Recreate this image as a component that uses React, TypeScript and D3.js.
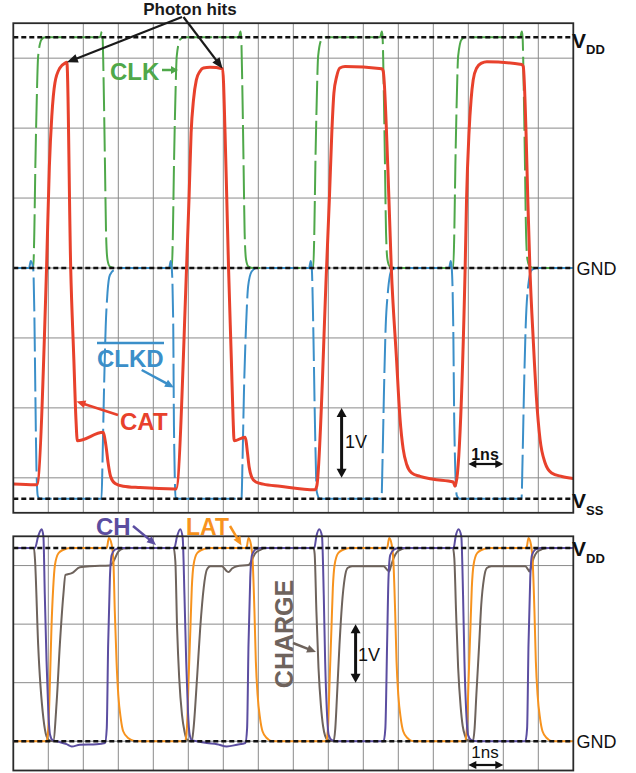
import React from "react";
import * as d3 from "d3";

// ---------- data (time in ns, voltage in V) ----------
const timeGridNs = [1, 2, 3, 4, 5, 6, 7, 8, 9, 10, 11, 12, 13, 14, 15];
const topGridV = [-3, -2, -1, 0, 1, 2, 3];
const botGridV = [0, 1, 2, 3];
const VDD = 3.3;
const VSS = -3.3;
const GND = 0;

const clk: [number, number][] = [
  [0, 0], [0.57, 0], [0.6, 0.5], [0.63, 1.45], [0.67, 2.4], [0.71, 3.03], [0.81, 3.27], [0.91, 3.3],
  [2.48, 3.3], [2.53, 3.38], [2.55, 3.31], [2.59, 2.4], [2.62, 1.45], [2.65, 0.5], [2.69, 0.12], [2.76, 0.02], [2.9, 0],
  [4.53, 0], [4.56, 0.5], [4.59, 1.45], [4.63, 2.4], [4.67, 3.03], [4.77, 3.27], [4.87, 3.3],
  [6.44, 3.3], [6.49, 3.38], [6.51, 3.31], [6.55, 2.4], [6.58, 1.45], [6.61, 0.5], [6.65, 0.12], [6.72, 0.02], [6.86, 0],
  [8.57, 0], [8.6, 0.5], [8.63, 1.45], [8.67, 2.4], [8.71, 3.03], [8.81, 3.27], [8.91, 3.3],
  [10.48, 3.3], [10.53, 3.38], [10.55, 3.31], [10.59, 2.4], [10.62, 1.45], [10.65, 0.5], [10.69, 0.12], [10.76, 0.02], [10.9, 0],
  [12.57, 0], [12.6, 0.5], [12.63, 1.45], [12.67, 2.4], [12.71, 3.03], [12.81, 3.27], [12.91, 3.3],
  [14.48, 3.3], [14.53, 3.38], [14.55, 3.31], [14.59, 2.4], [14.62, 1.45], [14.65, 0.5], [14.69, 0.12], [14.76, 0.02], [14.9, 0],
  [16, 0],
];

const clkd: [number, number][] = [
  [0, 0], [0.45, 0], [0.5, 0.1], [0.57, -0.02], [0.6, -0.6], [0.63, -1.78], [0.66, -2.83], [0.7, -3.26], [0.76, -3.3],
  [2.52, -3.3], [2.55, -2.74], [2.59, -1.78], [2.64, -0.84], [2.69, -0.36], [2.76, -0.1], [2.91, -0.02], [3.1, 0],
  [4.45, 0], [4.5, 0.1], [4.53, -0.02], [4.57, -0.83], [4.59, -2.26], [4.64, -3.28], [4.72, -3.3],
  [6.52, -3.3], [6.55, -2.74], [6.59, -1.78], [6.65, -0.83], [6.71, -0.26], [6.81, -0.05], [6.95, 0],
  [8.45, 0], [8.5, 0.1], [8.53, -0.02], [8.57, -0.83], [8.62, -2.26], [8.67, -3.2], [8.76, -3.3],
  [10.52, -3.3], [10.55, -2.74], [10.59, -1.78], [10.64, -0.83], [10.7, -0.36], [10.81, -0.03], [10.95, 0],
  [12.45, 0], [12.5, 0.1], [12.53, -0.02], [12.57, -0.83], [12.6, -2.26], [12.67, -3.25], [12.75, -3.3],
  [14.52, -3.3], [14.55, -2.74], [14.59, -1.78], [14.64, -0.83], [14.71, -0.26], [14.81, -0.03], [14.95, 0],
  [16, 0],
];

const cat: [number, number][] = [
  [0, -3.09], [0.62, -3.1], [0.67, -3.1], [0.95, 0], [1.03, 1.45], [1.1, 2.17], [1.19, 2.65], [1.33, 2.86],
  [1.48, 2.93], [1.53, 2.94], [1.64, 0], [1.73, -1.31], [1.79, -2.16], [1.83, -2.47], [2.57, -2.35],
  [2.59, -2.38], [2.65, -2.55], [2.71, -2.79], [2.78, -2.98], [2.91, -3.08], [3.14, -3.12], [3.62, -3.14], [4.62, -3.16],
  [4.65, -3.16], [4.95, 0], [5.02, 0.98], [5.08, 1.93], [5.15, 2.41], [5.23, 2.69], [5.33, 2.81], [5.43, 2.86],
  [5.62, 2.87], [5.98, 2.85], [6.05, 1.93], [6.1, 0.98], [6.15, 0], [6.23, -1.31], [6.28, -2.16], [6.31, -2.47],
  [6.62, -2.42], [6.65, -2.47], [6.69, -2.64], [6.74, -2.85], [6.81, -2.99], [6.93, -3.06], [7.14, -3.09], [7.62, -3.12], [8.62, -3.17],
  [8.67, -3.12], [8.95, 0], [9.03, 0.98], [9.1, 1.93], [9.16, 2.5], [9.24, 2.74], [9.33, 2.86], [9.48, 2.88],
  [10.53, 2.85], [10.57, 2.81], [10.7, 1.45], [10.8, 0], [10.95, -1.31], [11.05, -2.16], [11.14, -2.59],
  [11.24, -2.81], [11.38, -2.93], [11.62, -2.98], [12.0, -3.02], [12.57, -3.06],
  [12.62, -3.12], [12.91, 0], [12.95, 0.98], [13.02, 1.93], [13.08, 2.41], [13.14, 2.69], [13.24, 2.86],
  [13.38, 2.93], [13.53, 2.95], [14.53, 2.91], [14.57, 2.88], [14.65, 1.93], [14.7, 0.98], [14.76, 0],
  [14.86, -1.07], [14.95, -1.88], [15.05, -2.45], [15.19, -2.78], [15.38, -2.93], [15.67, -2.98], [16, -3.01],
];

const ch: [number, number][] = [
  [0, 3.3], [0.62, 3.3], [0.71, 3.5], [0.81, 3.62], [0.86, 3.5], [0.9, 2.5], [0.95, 1.36], [1.0, 0.51], [1.05, 0.11],
  [1.12, 0.02], [1.24, 0], [1.52, -0.05], [1.67, -0.09], [1.9, -0.06], [2.38, -0.05], [2.62, -0.03], [2.67, 0.22],
  [2.71, 1.65], [2.76, 2.79], [2.81, 3.18], [2.9, 3.27], [3.05, 3.3],
  [4.6, 3.3], [4.68, 3.5], [4.77, 3.62], [4.84, 3.47], [4.89, 2.5], [4.94, 1.36], [4.99, 0.51], [5.04, 0.11],
  [5.1, 0.02], [5.25, 0], [5.53, -0.03], [5.82, -0.05], [6.1, -0.09], [6.39, -0.06], [6.63, -0.03], [6.68, 0.22],
  [6.72, 1.65], [6.77, 2.79], [6.82, 3.18], [6.91, 3.27], [7.06, 3.3],
  [8.6, 3.3], [8.66, 3.5], [8.74, 3.62], [8.82, 3.5], [8.87, 2.5], [8.91, 1.36], [8.96, 0.51], [9.01, 0.11],
  [9.1, 0.02], [9.25, 0], [10.58, 0], [10.63, 0.22], [10.68, 1.65], [10.72, 2.79], [10.77, 3.18], [10.87, 3.27], [11.01, 3.3],
  [12.58, 3.3], [12.64, 3.5], [12.72, 3.62], [12.8, 3.5], [12.85, 2.5], [12.89, 1.36], [12.94, 0.51], [12.99, 0.11],
  [13.09, 0.02], [13.25, 0], [14.63, 0], [14.68, 0.22], [14.72, 1.65], [14.77, 2.79], [14.82, 3.18], [14.91, 3.27],
  [15.06, 3.3], [16, 3.3],
];

const lat: [number, number][] = [
  [0, 0], [0.95, 0], [1.0, 0.22], [1.05, 1.08], [1.09, 1.93], [1.14, 2.62], [1.19, 3.01], [1.29, 3.21], [1.43, 3.27], [1.62, 3.3],
  [2.67, 3.3], [2.73, 3.47], [2.81, 3.36], [2.86, 3.07], [2.9, 2.22], [2.95, 1.36], [3.0, 0.79], [3.07, 0.39],
  [3.14, 0.17], [3.29, 0.05], [3.43, 0.01], [3.6, 0],
  [4.91, 0], [4.96, 0.22], [5.01, 1.08], [5.06, 1.93], [5.1, 2.62], [5.15, 3.01], [5.25, 3.21], [5.39, 3.27], [5.58, 3.3],
  [6.66, 3.3], [6.72, 3.47], [6.79, 3.36], [6.84, 3.07], [6.89, 2.22], [6.93, 1.36], [6.98, 0.79], [7.05, 0.39],
  [7.12, 0.17], [7.25, 0.05], [7.34, 0.01], [7.5, 0],
  [8.94, 0], [8.99, 0.22], [9.04, 1.08], [9.09, 1.93], [9.13, 2.62], [9.18, 3.01], [9.28, 3.21], [9.42, 3.27], [9.61, 3.3],
  [10.68, 3.3], [10.74, 3.47], [10.81, 3.36], [10.86, 3.07], [10.91, 2.22], [10.95, 1.36], [11.0, 0.79], [11.07, 0.39],
  [11.14, 0.17], [11.27, 0.05], [11.36, 0.01], [11.53, 0],
  [12.91, 0], [12.96, 0.22], [13.01, 1.08], [13.06, 1.93], [13.1, 2.62], [13.15, 3.01], [13.25, 3.21], [13.39, 3.27], [13.58, 3.3],
  [14.66, 3.3], [14.72, 3.47], [14.79, 3.36], [14.84, 3.07], [14.89, 2.22], [14.93, 1.36], [14.98, 0.79], [15.05, 0.39],
  [15.12, 0.17], [15.25, 0.05], [15.34, 0.01], [15.49, 0], [16, 0],
];

const charge: [number, number][] = [
  [0, 3.3], [0.59, 3.3], [0.62, 3.1], [0.71, 1.65], [0.86, 0.39], [0.95, 0.08], [1.02, 0.02], [1.14, 0],
  [1.24, 0.68], [1.33, 1.65], [1.43, 2.5], [1.49, 2.84], [1.67, 2.87], [1.9, 2.97], [2.19, 2.99], [2.76, 3.0],
  [2.86, 3.07], [3.0, 3.24], [3.14, 3.29], [3.3, 3.3],
  [4.58, 3.3], [4.63, 3.07], [4.68, 1.93], [4.74, 1.08], [4.82, 0.45], [4.89, 0.17], [4.96, 0.03], [5.1, 0],
  [5.15, 0.22], [5.25, 1.08], [5.34, 1.93], [5.44, 2.62], [5.53, 2.93], [5.63, 2.99], [5.96, 2.99], [6.09, 2.91],
  [6.15, 2.89], [6.25, 2.95], [6.39, 2.99], [6.72, 3.01], [6.82, 3.1], [6.91, 3.21], [7.06, 3.27], [7.2, 3.3],
  [8.58, 3.3], [8.61, 3.2], [8.66, 2.22], [8.72, 1.25], [8.79, 0.6], [8.85, 0.26], [8.91, 0.09], [8.98, 0.02], [9.15, 0],
  [9.2, 0.22], [9.25, 0.79], [9.32, 1.65], [9.39, 2.33], [9.47, 2.79], [9.55, 2.96], [9.68, 2.99], [10.58, 2.99],
  [10.68, 2.93], [10.74, 2.9], [10.79, 2.99], [10.87, 3.13], [10.96, 3.23], [11.1, 3.28], [11.25, 3.3],
  [12.56, 3.3], [12.6, 3.13], [12.65, 2.22], [12.71, 1.25], [12.78, 0.6], [12.84, 0.26], [12.91, 0.09], [12.96, 0.02], [13.13, 0],
  [13.18, 0.22], [13.23, 0.79], [13.31, 1.65], [13.37, 2.33], [13.45, 2.79], [13.53, 2.96], [13.66, 2.99], [14.63, 2.99],
  [14.71, 2.93], [14.75, 2.9], [14.8, 2.99], [14.87, 3.13], [14.96, 3.23], [15.11, 3.28], [15.3, 3.3], [16, 3.3],
];

// photon hit instants on CAT: [t, V]
const photonHits: [number, number][] = [[1.53, 2.94], [5.98, 2.85]];

// ---------- styling ----------
const C = {
  clk: "#4fa84a",
  clkd: "#3b8fc9",
  cat: "#e8412c",
  ch: "#5b4da0",
  lat: "#f7931e",
  charge: "#6e635c",
  grid: "#8a8a8a",
  frame: "#2a2a2a",
  ref: "#111",
};
const FONT = "'Liberation Sans', Arial, sans-serif";

const W = 636;
const H = 773;
const x = d3.scaleLinear().domain([0, 16]).range([13.3, 573.3]);
const yT = d3.scaleLinear().domain([-3.5, 3.5]).range([512.8, 23.2]);
const yB = d3.scaleLinear().domain([-0.5, 3.5]).range([770.5, 536.3]);

function Arrow({ x1, y1, x2, y2, color, sw = 2, L = 9, Wd = 8, both = false }: any) {
  const dx = x2 - x1, dy = y2 - y1;
  const len = Math.hypot(dx, dy);
  const ux = dx / len, uy = dy / len, px = -uy, py = ux;
  const head = (tx: number, ty: number, dirx: number, diry: number) => {
    const bx = tx - dirx * L, by = ty - diry * L;
    return `${tx},${ty} ${bx + px * Wd / 2},${by + py * Wd / 2} ${bx - px * Wd / 2},${by - py * Wd / 2}`;
  };
  const sx = both ? x1 + ux * (L - 1) : x1;
  const sy = both ? y1 + uy * (L - 1) : y1;
  const ex = x2 - ux * (L - 1), ey = y2 - uy * (L - 1);
  return (
    <g>
      <line x1={sx} y1={sy} x2={ex} y2={ey} stroke={color} strokeWidth={sw} />
      <polygon points={head(x2, y2, ux, uy)} fill={color} />
      {both && <polygon points={head(x1, y1, -ux, -uy)} fill={color} />}
    </g>
  );
}

export default function App() {
  const lineT = d3.line<[number, number]>().x((d) => x(d[0])).y((d) => yT(d[1])).curve(d3.curveMonotoneX);
  const lineB = d3.line<[number, number]>().x((d) => x(d[0])).y((d) => yB(d[1])).curve(d3.curveMonotoneX);

  const topY0 = yT(3.5), topY1 = yT(-3.5);
  const botY0 = yB(3.5), botY1 = yB(-0.5);
  const x0 = x(0), x1 = x(16);

  return (
    <div style={{ position: "absolute", left: 0, top: 0 }}>
      <svg width={W} height={H} style={{ display: "block", background: "#fff" }} fontFamily={FONT}>
        {/* ---------- TOP PANEL ---------- */}
        <g>
          {timeGridNs.map((t) => (
            <line key={"tv" + t} x1={x(t)} x2={x(t)} y1={topY0} y2={topY1} stroke={C.grid} strokeWidth={1} />
          ))}
          {topGridV.map((v) => (
            <line key={"th" + v} x1={x0} x2={x1} y1={yT(v)} y2={yT(v)} stroke={C.grid} strokeWidth={1} />
          ))}
          <path d={lineT(clk) || ""} fill="none" stroke={C.clk} strokeWidth={2} strokeDasharray="34,6" />
          <path d={lineT(clkd) || ""} fill="none" stroke={C.clkd} strokeWidth={2} strokeDasharray="34,6" />
          {[VDD, GND, VSS].map((v) => (
            <line key={"tr" + v} x1={x0} x2={x1} y1={yT(v)} y2={yT(v)} stroke={C.ref} strokeWidth={2.5} strokeDasharray="5,3" />
          ))}
          <path d={lineT(cat) || ""} fill="none" stroke={C.cat} strokeWidth={3} strokeLinejoin="round" />
          <rect x={x0} y={topY0} width={x1 - x0} height={topY1 - topY0} fill="none" stroke={C.frame} strokeWidth={1.8} />
        </g>

        {/* ---------- BOTTOM PANEL ---------- */}
        <g>
          {timeGridNs.map((t) => (
            <line key={"bv" + t} x1={x(t)} x2={x(t)} y1={botY0} y2={botY1} stroke={C.grid} strokeWidth={1} />
          ))}
          {botGridV.map((v) => (
            <line key={"bh" + v} x1={x0} x2={x1} y1={yB(v)} y2={yB(v)} stroke={C.grid} strokeWidth={1} />
          ))}
          <path d={lineB(charge) || ""} fill="none" stroke={C.charge} strokeWidth={2} />
          <path d={lineB(lat) || ""} fill="none" stroke={C.lat} strokeWidth={2} />
          <path d={lineB(ch) || ""} fill="none" stroke={C.ch} strokeWidth={2} />
          {[VDD, GND].map((v) => (
            <line key={"br" + v} x1={x0} x2={x1} y1={yB(v)} y2={yB(v)} stroke={C.ref} strokeWidth={2.5} strokeDasharray="5,3" />
          ))}
          <rect x={x0} y={botY0} width={x1 - x0} height={botY1 - botY0} fill="none" stroke={C.frame} strokeWidth={1.8} />
        </g>

        {/* ---------- annotations top ---------- */}
        <text x={190} y={14.5} textAnchor="middle" fontSize={17} fontWeight="bold" fill="#1a1a1a">Photon hits</text>
        {photonHits.map((p, i) => (
          <Arrow key={"ph" + i} x1={182 + i * 1.5} y1={17} x2={x(p[0])} y2={yT(p[1])} color="#1a1a1a" sw={2.2} L={11} Wd={9} />
        ))}

        <text x={110} y={80} fontSize={24} fontWeight="bold" fill={C.clk}>CLK</text>
        <Arrow x1={162} y1={70} x2={178} y2={70} color={C.clk} sw={2.5} L={7} Wd={8} />

        <text x={97} y={367} fontSize={24} fontWeight="bold" fill={C.clkd}>CLKD</text>
        <line x1={97} x2={164} y1={343} y2={343} stroke={C.clkd} strokeWidth={2.5} />
        <Arrow x1={141.7} y1={370} x2={174} y2={387.5} color={C.clkd} sw={2.5} L={9} Wd={8} />

        <text x={120} y={430} fontSize={24} fontWeight="bold" fill={C.cat}>CAT</text>
        <Arrow x1={118} y1={415} x2={76.5} y2={401.5} color={C.cat} sw={2.5} L={9} Wd={8} />

        <Arrow x1={x(9.38)} y1={yT(-3)} x2={x(9.38)} y2={yT(-2)} color="#111" sw={3} L={9} Wd={10} both />
        <text x={345} y={448} fontSize={18} fill="#111">1V</text>
        <Arrow x1={x(13)} y1={464} x2={x(14)} y2={464} color="#111" sw={2.2} L={8} Wd={8} both />
        <text x={485} y={460} textAnchor="middle" fontSize={16} fontWeight="bold" fill="#111">1ns</text>

        <text x={572} y={48} fontSize={21} fontWeight="bold" fill="#111">V<tspan fontSize={13} dy={5.5}>DD</tspan></text>
        <text x={576.5} y={275} fontSize={18} fill="#111">GND</text>
        <text x={572} y={508} fontSize={21} fontWeight="bold" fill="#111">V<tspan fontSize={13} dy={7}>SS</tspan></text>

        {/* ---------- annotations bottom ---------- */}
        <text x={96} y={535} fontSize={24} fontWeight="bold" fill={C.ch}>CH</text>
        <Arrow x1={133} y1={526} x2={156} y2={545} color={C.ch} sw={2.5} L={9} Wd={8} />
        <text x={186} y={535} fontSize={23} fontWeight="bold" fill={C.lat}>LAT</text>
        <Arrow x1={230} y1={526} x2={241.5} y2={545.5} color={C.lat} sw={2.5} L={9} Wd={8} />
        <text transform="translate(293,634) rotate(-90)" textAnchor="middle" fontSize={25} fontWeight="bold" fill={C.charge}>CHARGE</text>
        <Arrow x1={293} y1={643} x2={316} y2={652} color={C.charge} sw={2.5} L={9} Wd={8} />

        <Arrow x1={x(9.78)} y1={yB(2)} x2={x(9.78)} y2={yB(1)} color="#111" sw={3} L={9} Wd={10} both />
        <text x={358} y={661} fontSize={18} fill="#111">1V</text>
        <Arrow x1={x(13)} y1={765} x2={x(14)} y2={765} color="#111" sw={2.2} L={8} Wd={8} both />
        <text x={485} y={758} textAnchor="middle" fontSize={17} fill="#111">1ns</text>

        <text x={572} y={555.5} fontSize={21} fontWeight="bold" fill="#111">V<tspan fontSize={13} dy={7}>DD</tspan></text>
        <text x={576.5} y={748} fontSize={18} fill="#111">GND</text>
      </svg>
    </div>
  );
}
